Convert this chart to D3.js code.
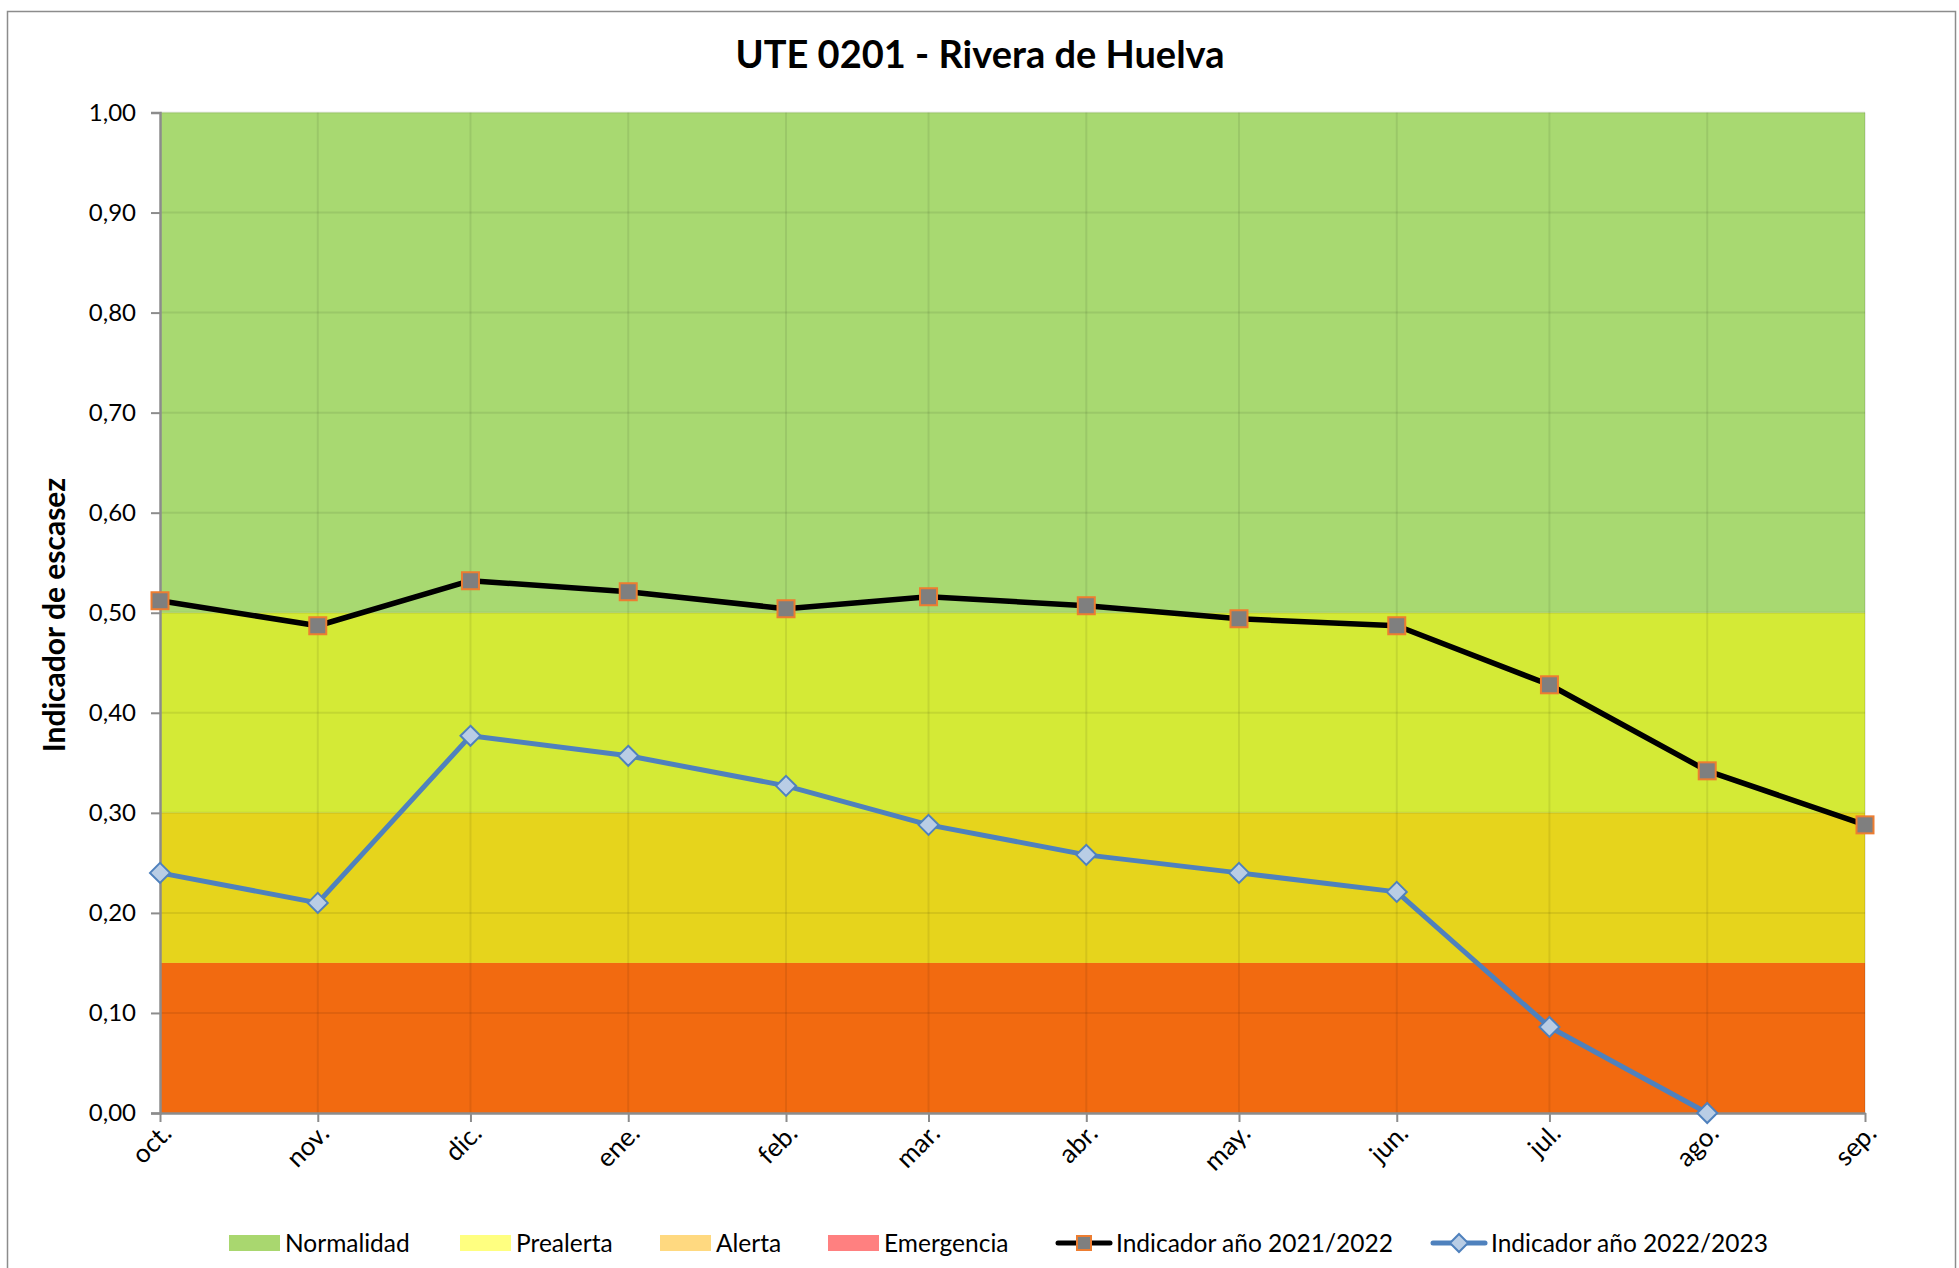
<!DOCTYPE html>
<html>
<head>
<meta charset="utf-8">
<script src="https://cdn.jsdelivr.net/npm/d3@7"></script>
<style>
  html, body { margin: 0; padding: 0; background: #ffffff; }
  svg { display: block; font-family: Lato, "Open Sans", sans-serif; }
</style>
</head>
<body>
<svg id="chart" width="1959" height="1268"></svg>
<script>
// ---- data ----
const months = ["oct.", "nov.", "dic.", "ene.", "feb.", "mar.", "abr.", "may.", "jun.", "jul.", "ago.", "sep."];
const monthDates = ["2022-10-01", "2022-11-01", "2022-12-01", "2023-01-01", "2023-02-01", "2023-03-01",
                    "2023-04-01", "2023-05-01", "2023-06-01", "2023-07-01", "2023-08-01", "2023-09-01"];
const serie2122 = [0.512, 0.487, 0.532, 0.521, 0.504, 0.516, 0.507, 0.494, 0.487, 0.428, 0.342, 0.288];
const serie2223 = [0.240, 0.210, 0.377, 0.357, 0.327, 0.288, 0.258, 0.240, 0.221, 0.086, 0.000, null];
const bandNames = ["Normalidad", "Prealerta", "Alerta", "Emergencia"];
const bandLower = [0.50, 0.30, 0.15, 0.00];
const bandUpper = [1.00, 0.50, 0.30, 0.15];
const yTicks = [0, 0.1, 0.2, 0.3, 0.4, 0.5, 0.6, 0.7, 0.8, 0.9, 1.0];
const seriesNames = ["Indicador año 2021/2022", "Indicador año 2022/2023"];
const title = "UTE 0201 - Rivera de Huelva";
const yTitle = "Indicador de escasez";

// ---- styles ----
const bandFill = {Normalidad: "#a8d971", Prealerta: "#d4ea36", Alerta: "#e6d41c", Emergencia: "#f26a10"};
const legendFill = {Normalidad: "#a9d76f", Prealerta: "#ffff80", Alerta: "#ffd980", Emergencia: "#ff8080"};

const svg = d3.select("#chart");
const pL = 160, pR = 1865, pT = 112.5, pB = 1113;

const parse = d3.utcParse("%Y-%m-%d");
const dates = monthDates.map(parse);
const x = d3.scaleUtc().domain([dates[0], dates[dates.length - 1]]).range([pL, pR]);
const y = d3.scaleLinear().domain([0, 1]).range([pB, pT]);

// outer border
svg.append("rect").attr("x", 7.5).attr("y", 11.5).attr("width", 1948).attr("height", 1300)
  .attr("fill", "#fff").attr("stroke", "#8c8c8c").attr("stroke-width", 1.5);

// title
svg.append("text").attr("x", 980).attr("y", 68).attr("text-anchor", "middle")
  .attr("font-size", 38).attr("font-weight", "bold").attr("fill", "#000").text(title);

// bands
svg.append("g").selectAll("rect").data(bandNames).join("rect")
  .attr("x", pL).attr("width", pR - pL)
  .attr("y", (d, i) => y(bandUpper[i]))
  .attr("height", (d, i) => y(bandLower[i]) - y(bandUpper[i]))
  .attr("fill", d => bandFill[d]);

// gridlines
const grid = svg.append("g").attr("stroke", "#000").attr("stroke-opacity", 0.08).attr("stroke-width", 2);
grid.selectAll("line.h").data(yTicks.slice(1)).join("line").attr("class", "h")
  .attr("x1", pL).attr("x2", pR).attr("y1", d => y(d)).attr("y2", d => y(d));
grid.selectAll("line.v").data(dates.slice(1)).join("line").attr("class", "v")
  .attr("y1", pT).attr("y2", pB).attr("x1", d => x(d)).attr("x2", d => x(d));

// y axis
const fmt = d => d3.format(".2f")(d).replace(".", ",");
const yAxis = svg.append("g").attr("transform", `translate(${pL},0)`)
  .call(d3.axisLeft(y).tickValues(yTicks).tickFormat(fmt).tickSize(9).tickPadding(15));
yAxis.select(".domain").attr("stroke", "#8c8c8c").attr("stroke-width", 2.5);
yAxis.selectAll(".tick line").attr("stroke", "#8c8c8c").attr("stroke-width", 2);
yAxis.selectAll(".tick text").attr("font-size", 24).attr("fill", "#000")
  .attr("font-family", "Lato, sans-serif");

// x axis
const xAxis = svg.append("g").attr("transform", `translate(0,${pB})`)
  .call(d3.axisBottom(x).tickValues(dates).tickFormat("").tickSize(9).tickSizeOuter(0));
xAxis.select(".domain").attr("stroke", "#8c8c8c").attr("stroke-width", 2.5);
xAxis.selectAll(".tick line").attr("stroke", "#8c8c8c").attr("stroke-width", 2);
svg.append("g").selectAll("text").data(months).join("text")
  .attr("transform", (d, i) => `translate(${x(dates[i]) + 13},${pB + 22}) rotate(-45)`)
  .attr("text-anchor", "end").attr("font-size", 26).attr("fill", "#000").text(d => d);

// y title
svg.append("text").attr("transform", `translate(65,615) rotate(-90)`)
  .attr("text-anchor", "middle").attr("font-size", 30).attr("font-weight", "bold")
  .attr("fill", "#000").text(yTitle);

// series
const line = d3.line().defined(d => d.v !== null).x(d => x(d.date)).y(d => y(d.v));
const s1 = serie2122.map((v, i) => ({date: dates[i], v}));
const s2 = serie2223.map((v, i) => ({date: dates[i], v}));

svg.append("path").datum(s1).attr("d", line).attr("fill", "none")
  .attr("stroke", "#000").attr("stroke-width", 5.5).attr("stroke-linejoin", "round");
svg.append("path").datum(s2).attr("d", line).attr("fill", "none")
  .attr("stroke", "#4f81bd").attr("stroke-width", 5).attr("stroke-linejoin", "round");

const sq = 17;
svg.append("g").selectAll("rect").data(s1.filter(d => d.v !== null)).join("rect")
  .attr("x", d => x(d.date) - sq / 2).attr("y", d => y(d.v) - sq / 2)
  .attr("width", sq).attr("height", sq)
  .attr("fill", "#7f7f7f").attr("stroke", "#ed7d31").attr("stroke-width", 2);

const diamondPath = (r) => `M0,${-r}L${r},0L0,${r}L${-r},0Z`;
svg.append("g").selectAll("path").data(s2.filter(d => d.v !== null)).join("path")
  .attr("transform", d => `translate(${x(d.date)},${y(d.v)})`)
  .attr("d", diamondPath(10))
  .attr("fill", "#b9cde5").attr("stroke", "#4f81bd").attr("stroke-width", 2);

// legend
const lg = svg.append("g").attr("font-size", 24.5).attr("fill", "#000");
const legendY = 1243;
const swatchX = [229, 460, 660, 828];
bandNames.forEach((n, i) => {
  lg.append("rect").attr("x", swatchX[i]).attr("y", legendY - 8).attr("width", 51).attr("height", 16)
    .attr("fill", legendFill[n]);
  lg.append("text").attr("x", swatchX[i] + 56).attr("y", legendY + 9).text(n);
});
const lineX = [1058, 1433];
const lineCol = ["#000", "#4f81bd"];
seriesNames.forEach((n, i) => {
  lg.append("line").attr("x1", lineX[i]).attr("x2", lineX[i] + 52).attr("y1", legendY).attr("y2", legendY)
    .attr("stroke", lineCol[i]).attr("stroke-width", 5).attr("stroke-linecap", "round");
  if (i === 0) {
    lg.append("rect").attr("x", lineX[i] + 26 - 7).attr("y", legendY - 7).attr("width", 14).attr("height", 14)
      .attr("fill", "#7f7f7f").attr("stroke", "#ed7d31").attr("stroke-width", 2);
  } else {
    lg.append("path").attr("transform", `translate(${lineX[i] + 26},${legendY})`).attr("d", diamondPath(9))
      .attr("fill", "#b9cde5").attr("stroke", "#4f81bd").attr("stroke-width", 2);
  }
  lg.append("text").attr("x", lineX[i] + 58).attr("y", legendY + 9).text(n);
});
</script>
</body>
</html>
